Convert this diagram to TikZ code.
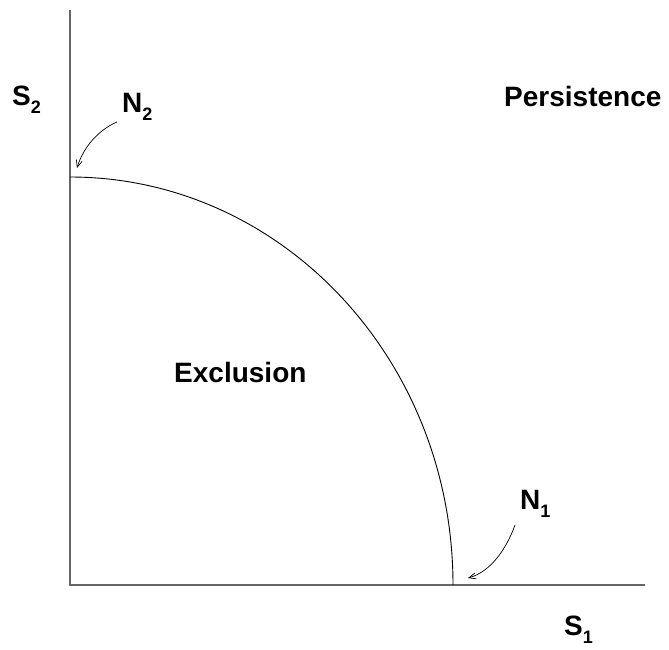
\documentclass[tikz,border=0pt]{standalone}
\usepackage{fontspec}
\setmainfont{Liberation Sans}
\usetikzlibrary{arrows.meta}
\newcommand{\lsub}[1]{\raisebox{-8pt}{\fontsize{18}{20}\selectfont #1}}
\begin{document}
\begin{tikzpicture}[x=1pt,y=-1pt,
  lab/.style={font=\fontsize{28}{30}\selectfont\bfseries, inner sep=0pt, anchor=base west},
  axis/.style={draw=black!60, line width=1.4pt},
  bound/.style={draw=black, line width=0.9pt},
  pointer/.style={draw=black, line width=0.7pt, -{Straight Barb[length=7pt,width=6pt]}}]
\useasboundingbox (0,0) rectangle (669,649);
\coordinate (O) at (70,585);
\coordinate (ytop) at (70,10);
\coordinate (xend) at (645,585);
\draw[axis] (ytop) -- (O) -- (xend);
\draw[bound] (70,177) arc[start angle=90, end angle=0, x radius=383, y radius=-408];
\node[lab] (s2) at (12,105) {S\lsub{2}};
\node[lab] (n2) at (122,112) {N\lsub{2}};
\node[lab] (pers) at (504,106) {Persistence};
\node[lab] (excl) at (174,382) {Exclusion};
\node[lab] (n1) at (520,509) {N\lsub{1}};
\node[lab] (s1) at (564,635) {S\lsub{1}};
\coordinate (a2s) at (117,122);
\coordinate (a2e) at (77,168);
\coordinate (a1s) at (515,525);
\coordinate (a1e) at (468,578);
\draw[pointer] (a2s) .. controls (98,130) and (83,148) .. (a2e);
\draw[pointer] (a1s) .. controls (506,550) and (490,572) .. (a1e);
\end{tikzpicture}
\end{document}
